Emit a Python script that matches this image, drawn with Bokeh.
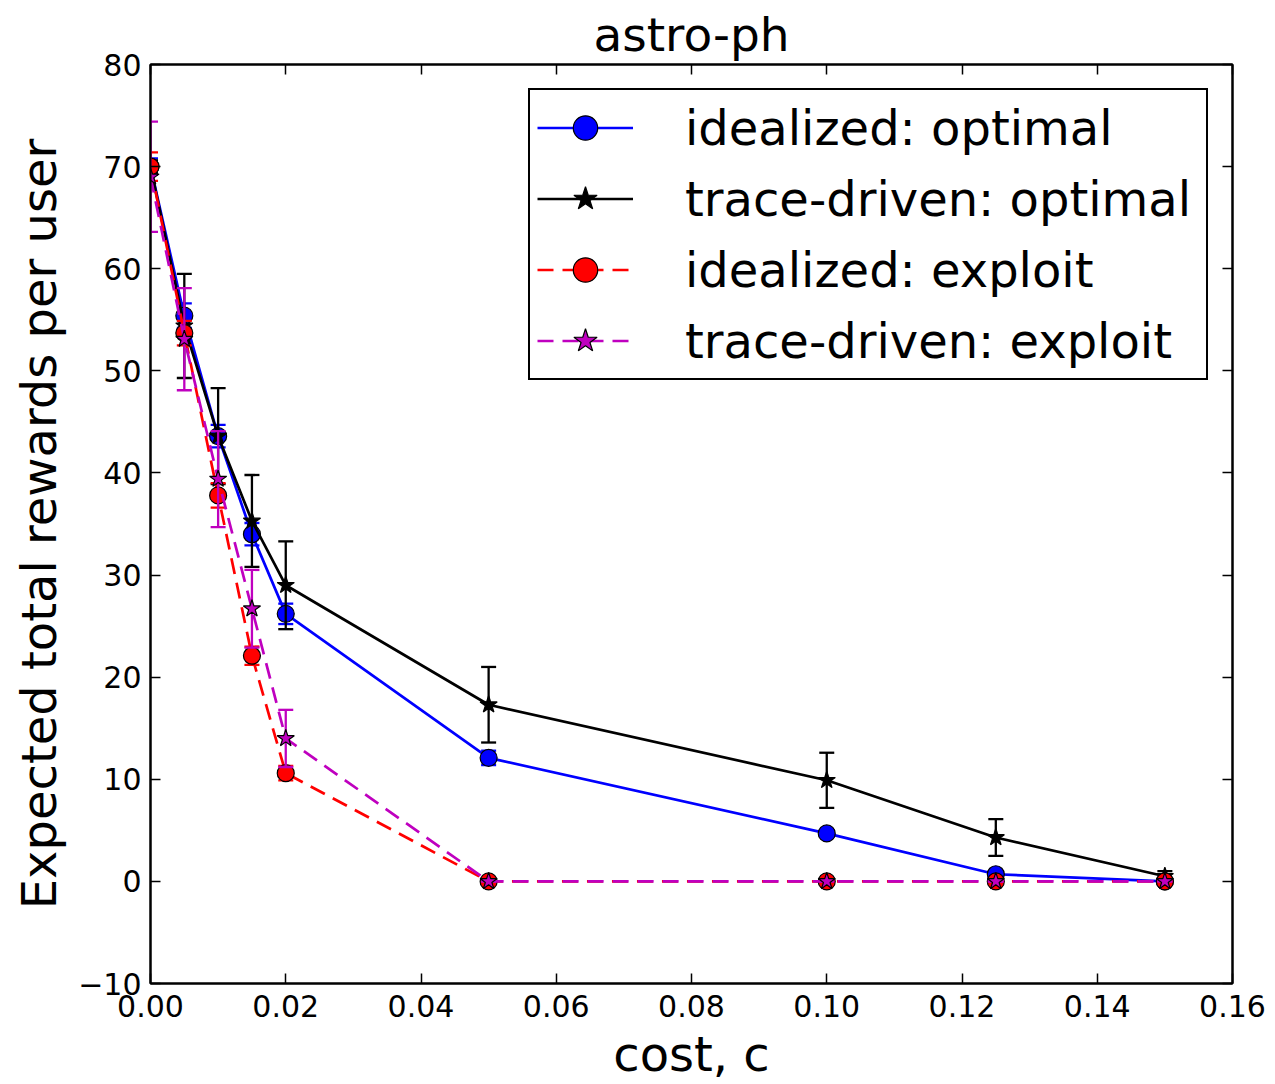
from bokeh.plotting import figure
from bokeh.models import (ColumnDataSource, LinearAxis, Range1d, Legend, LegendItem,
                          FixedTicker, CustomJSTickFormatter)
from bokeh.embed import file_html
from bokeh.resources import INLINE

# ---- data ----
cost = [0.0, 0.005, 0.01, 0.015, 0.02, 0.05, 0.10, 0.125, 0.15]

ideal_opt = [70.0, 55.4, 43.6, 34.0, 26.2, 12.1, 4.7, 0.7, 0.0]
ideal_opt_err = [0.8, 1.2, 1.1, 1.1, 1.0, 0.7, 0.3, 0.2, 0.0]

trace_opt = [70.0, 54.4, 43.6, 35.3, 29.0, 17.3, 9.9, 4.3, 0.5]
trace_opt_err = [0.6, 5.1, 4.7, 4.5, 4.3, 3.7, 2.7, 1.8, 0.5]

ideal_exp = [70.0, 53.7, 37.8, 22.1, 10.6, 0.0, 0.0, 0.0, 0.0]
ideal_exp_err = [1.4, 1.2, 1.2, 0.9, 0.7, 0.0, 0.0, 0.0, 0.0]

trace_exp = [69.0, 53.1, 39.4, 26.7, 14.0, 0.0, 0.0, 0.0, 0.0]
trace_exp_err = [5.4, 5.0, 4.7, 3.8, 2.8, 0.0, 0.0, 0.0, 0.0]

x_ticks = [0.0, 0.02, 0.04, 0.06, 0.08, 0.10, 0.12, 0.14, 0.16]
y_ticks = [-10, 0, 10, 20, 30, 40, 50, 60, 70, 80]

FONT = "DejaVu Sans"

p = figure(width=1275, height=1084, output_backend="svg", toolbar_location=None,
           x_range=Range1d(0.0, 0.16), y_range=Range1d(-10, 80),
           min_border_left=150, min_border_right=43, min_border_top=64, min_border_bottom=99,
           x_axis_label="cost, c", y_axis_label="Expected total rewards per user")
p.background_fill_color = "white"
p.border_fill_color = "white"
p.outline_line_color = "black"
p.outline_line_width = 2
p.xgrid.visible = False
p.ygrid.visible = False

p.title.text = "astro-ph"
p.title.align = "center"
p.title.text_font = FONT
p.title.text_font_size = "47px"
p.title.text_font_style = "normal"
p.title.text_color = "black"
p.title.standoff = 5
p.title.offset = 0

xfmt = CustomJSTickFormatter(code="return tick.toFixed(2);")
yfmt = CustomJSTickFormatter(code="return tick < 0 ? '\\u2212' + Math.abs(tick).toFixed(0) : tick.toFixed(0);")
blank = CustomJSTickFormatter(code="return '';")

for ax in p.xaxis:
    ax.ticker = FixedTicker(ticks=x_ticks)
    ax.formatter = xfmt
for ax in p.yaxis:
    ax.ticker = FixedTicker(ticks=y_ticks)
    ax.formatter = yfmt

def style_axis(ax, labels=True):
    ax.axis_line_color = "black"
    ax.axis_line_width = 2
    ax.major_tick_in = 10
    ax.major_tick_out = 0
    ax.major_tick_line_color = "black"
    ax.major_tick_line_width = 1.5
    ax.minor_tick_line_color = None
    ax.major_label_text_font = FONT
    ax.major_label_text_color = "black"
    ax.axis_label_text_font = FONT
    ax.axis_label_text_font_style = "normal"
    ax.axis_label_text_color = "black"
    ax.axis_label_text_font_size = "48px"
    ax.major_label_text_font_size = "30px"
    ax.major_label_standoff = 9 if labels else 0

style_axis(p.xaxis[0])
style_axis(p.yaxis[0])
p.xaxis[0].major_label_standoff = 11
p.xaxis[0].axis_label_standoff = 6
p.xaxis[0].axis_label_text_line_height = 0.9
p.yaxis[0].axis_label_standoff = 8

top_ax = LinearAxis(ticker=FixedTicker(ticks=x_ticks), formatter=blank)
right_ax = LinearAxis(ticker=FixedTicker(ticks=y_ticks), formatter=blank)
style_axis(top_ax, labels=False)
style_axis(right_ax, labels=False)
p.add_layout(top_ax, "above")
p.add_layout(right_ax, "right")

series = [
    ("idealized: optimal", ideal_opt, ideal_opt_err, "#0000ff", "circle", "solid"),
    ("trace-driven: optimal", trace_opt, trace_opt_err, "#000000", "star", "solid"),
    ("idealized: exploit", ideal_exp, ideal_exp_err, "#ff0000", "circle", "16 9"),
    ("trace-driven: exploit", trace_exp, trace_exp_err, "#bf00bf", "star", "16 9"),
]

items = []
for name, vals, errs, color, marker, dash in series:
    lo = [v - e for v, e in zip(vals, errs)]
    hi = [v + e for v, e in zip(vals, errs)]
    src = ColumnDataSource(dict(x=cost, y=vals, lo=lo, hi=hi))
    p.segment(x0="x", y0="lo", x1="x", y1="hi", source=src, line_color=color, line_width=2.3)
    p.scatter(x="x", y="lo", source=src, marker="dash", size=15, line_color=color, line_width=2.3)
    p.scatter(x="x", y="hi", source=src, marker="dash", size=15, line_color=color, line_width=2.3)
    ln = p.line(x="x", y="y", source=src, line_color=color, line_width=2.7, line_dash=dash)
    sz = 17 if marker == "circle" else 18
    mk = p.scatter(x="x", y="y", source=src, marker=marker, size=sz, fill_color=color,
                   line_color="black", line_width=1.2)
    items.append(LegendItem(label=name, renderers=[ln, mk]))

legend = Legend(items=items, location="top_right")
legend.margin = 24
legend.padding = 7
legend.spacing = 10
legend.glyph_width = 96
legend.glyph_height = 61
legend.label_height = 61
legend.label_width = 514
legend.label_standoff = 52
legend.label_text_font = FONT
legend.label_text_font_size = "48px"
legend.label_text_color = "black"
legend.border_line_color = "black"
legend.border_line_alpha = 1.0
legend.border_line_width = 2.5
legend.background_fill_color = "white"
legend.background_fill_alpha = 1.0
p.add_layout(legend, "center")

open("out.html", "w").write(file_html(p, INLINE))
